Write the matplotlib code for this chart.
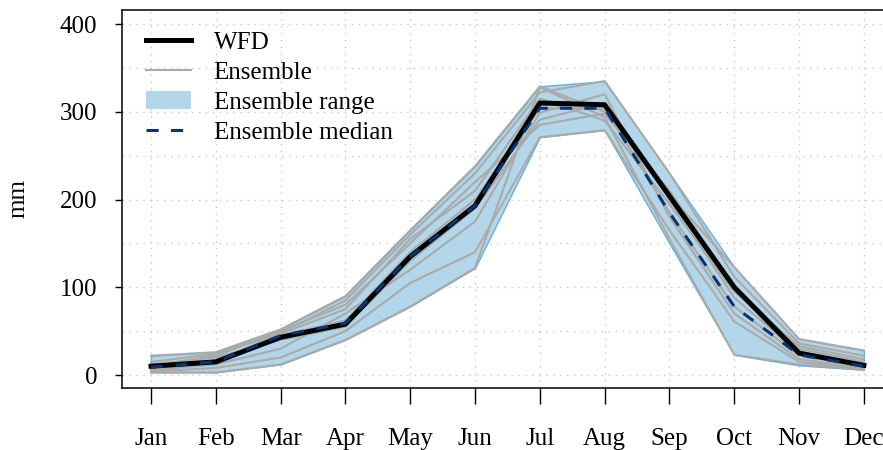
import matplotlib
matplotlib.use("Agg")
import matplotlib.pyplot as plt
from matplotlib.lines import Line2D
from matplotlib.patches import Patch

months = ["Jan", "Feb", "Mar", "Apr", "May", "Jun", "Jul", "Aug", "Sep", "Oct", "Nov", "Dec"]

wfd = [10, 15, 43, 58, 135, 193, 310, 308, 204, 100, 25, 11]
ens_median = [9, 15, 45, 59, 135, 193, 304, 304, 185, 78, 23, 10]
ens_upper = [22, 26, 52, 90, 165, 238, 329, 335, 230, 123, 41, 28]
ens_lower = [3, 3, 12, 40, 78, 122, 271, 279, 150, 23, 11, 6]

member_1 = [22, 26, 52, 90, 165, 238, 329, 300, 205, 123, 41, 28]
member_2 = [5, 14, 48, 85, 160, 230, 322, 335, 230, 112, 36, 22]
member_3 = [8, 17, 45, 62, 140, 200, 304, 304, 185, 78, 22, 10]
member_4 = [12, 20, 40, 55, 130, 190, 291, 310, 200, 88, 25, 12]
member_5 = [3, 3, 12, 40, 78, 122, 328, 294, 155, 23, 12, 6]
member_6 = [4, 8, 20, 50, 105, 140, 271, 279, 165, 61, 15, 7]
member_7 = [10, 22, 50, 80, 150, 220, 285, 298, 210, 100, 30, 15]
member_8 = [6, 12, 30, 70, 120, 175, 299, 320, 180, 70, 18, 8]
member_9 = [15, 24, 47, 75, 155, 210, 315, 290, 195, 95, 33, 18]
members = [member_1, member_2, member_3, member_4, member_5, member_6, member_7,
           member_8, member_9]

plt.rcParams["font.family"] = ["Liberation Serif", "DejaVu Serif"]
plt.rcParams["font.size"] = 18

fig = plt.figure(figsize=(8.83, 4.5), dpi=100)
ax = fig.add_axes([0.1382, 0.1378, 0.873, 0.84])

x = list(range(1, 13))
median_dash = (0, (4, 4))

ax.fill_between(x, ens_lower, ens_upper, facecolor="#b3d6ea", edgecolor="#6baed6",
                linewidth=1.0, zorder=2)
for member in members:
    ax.plot(x, member, color="#aaaaaa", linewidth=1.5, zorder=3)
ax.plot(x, wfd, color="black", linewidth=3.6, zorder=4)
ax.plot(x, ens_median, color="#0b3470", linewidth=2.2, linestyle=median_dash, zorder=5)

ax.set_xlim(0.5525, 12.4475)
ax.set_ylim(-14.8, 416)

for xv in x:
    ax.axvline(xv, color="#c8c8c8", linewidth=1.0, linestyle=(0, (1, 4)), zorder=1)
for yv in range(0, 401, 50):
    ax.axhline(yv, color="#c8c8c8", linewidth=1.0, linestyle=(0, (1, 4)), zorder=1)

ax.set_xticks(x)
ax.set_xticklabels(months)
ax.set_yticks([0, 100, 200, 300, 400])
ax.tick_params(axis="x", direction="out", length=11.5, width=1.0, pad=17.5)
ax.tick_params(axis="y", direction="out", length=5, width=1.0, pad=13)
for spine in ax.spines.values():
    spine.set_linewidth(1.1)
ax.set_ylabel("mm", labelpad=22)

handles = [
    Line2D([], [], color="black", linewidth=3.6),
    Line2D([], [], color="#aaaaaa", linewidth=1.5),
    Patch(facecolor="#b3d6ea", edgecolor="none"),
    Line2D([], [], color="#0b3470", linewidth=2.2, linestyle=median_dash),
]
labels = ["WFD", "Ensemble", "Ensemble range", "Ensemble median"]
ax.legend(handles, labels, loc="upper left", bbox_to_anchor=(0.024, 0.957), frameon=False,
          borderpad=0.2, handlelength=1.8, handletextpad=0.92, labelspacing=0.3,
          borderaxespad=0)

fig.savefig("out.png", dpi=100)
